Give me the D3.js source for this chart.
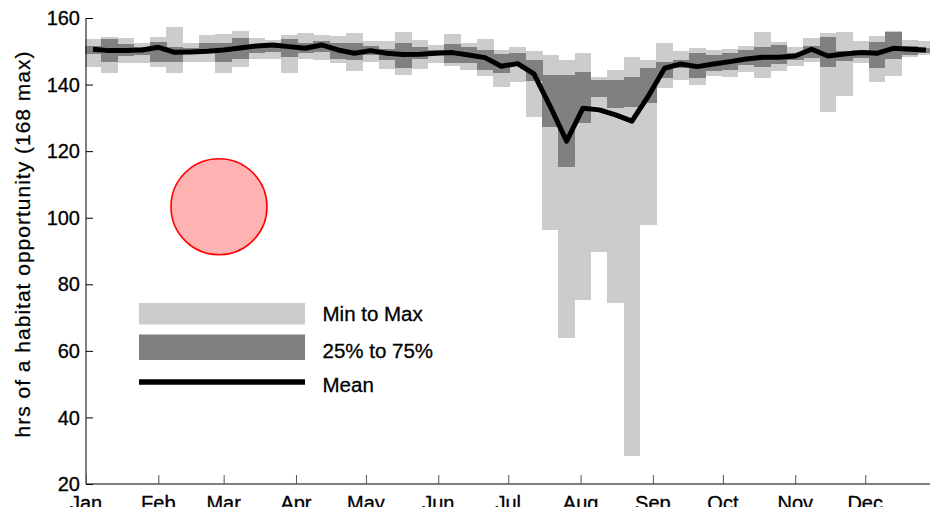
<!DOCTYPE html>
<html>
<head>
<meta charset="utf-8">
<script src="https://cdn.jsdelivr.net/npm/d3@7"></script>
<style>
	body { margin: 0; background: #fff; }
	svg { display: block; font-family: "Liberation Sans", Arial, Helvetica, sans-serif; }
	.tick-text { font-size: 20px; fill: #000; stroke: #000; stroke-width: 0.3px; }
	.legend-text { font-size: 20.5px; fill: #000; stroke: #000; stroke-width: 0.3px; }
	.y-title { font-size: 21px; letter-spacing: 1px; fill: #000; stroke: #000; stroke-width: 0.25px; }
</style>
</head>
<body>
<svg id="chart" width="930" height="513"></svg>
<script>
// weekly summary values, one entry per week of the year
const weekMax = [
	153.6, 154.4, 153.9, 152.4, 154.4, 157.2, 152.4, 154.9, 155.2, 156.1, 153.9, 153.4, 154.9,
	155.6, 155.0, 154.6, 155.4, 153.0, 153.2, 155.9, 153.4, 151.9, 155.3, 152.5, 153.6, 150.4,
	151.4, 150.2, 148.9, 147.4, 149.4, 142.3, 144.4, 148.4, 147.4, 152.6, 150.0, 151.0, 150.4,
	150.6, 151.6, 155.9, 152.9, 151.4, 154.0, 155.4, 155.9, 153.0, 154.6, 156.2, 153.5, 153.2
];
const weekQ75 = [
	151.6, 153.7, 152.2, 151.4, 152.9, 151.4, 150.9, 152.4, 152.6, 153.9, 152.0, 152.4, 153.6,
	152.6, 153.0, 152.5, 152.5, 151.5, 150.8, 152.6, 151.4, 150.4, 152.3, 151.2, 150.4, 149.2,
	149.4, 147.4, 142.9, 142.9, 143.9, 141.4, 141.4, 142.4, 144.9, 146.9, 147.5, 149.4, 148.9,
	149.4, 150.4, 151.2, 151.8, 149.5, 151.5, 154.2, 150.0, 150.5, 152.9, 155.9, 151.5, 151.0
];
const weekQ25 = [
	149.2, 146.9, 148.6, 148.9, 146.9, 146.9, 149.4, 149.4, 146.9, 147.6, 149.5, 149.9, 148.4,
	149.4, 149.7, 147.8, 147.4, 149.0, 147.5, 144.9, 147.6, 148.9, 146.4, 146.6, 144.4, 143.5,
	145.5, 141.0, 127.3, 115.3, 128.4, 136.2, 132.9, 133.4, 134.4, 141.9, 145.0, 141.9, 144.2,
	144.4, 145.9, 145.4, 146.2, 147.5, 147.9, 145.4, 147.0, 148.0, 144.9, 147.6, 149.0, 149.5
];
const weekMin = [
	145.4, 143.6, 146.4, 146.4, 145.4, 143.6, 146.9, 146.9, 143.4, 145.4, 147.6, 147.6, 143.6,
	147.6, 147.3, 146.4, 144.0, 146.9, 144.6, 142.9, 144.7, 146.4, 145.5, 144.4, 142.6, 139.3,
	140.9, 130.4, 96.3, 64.0, 75.3, 89.8, 74.5, 28.5, 97.8, 138.9, 141.5, 139.9, 142.6,
	142.4, 143.8, 141.9, 144.0, 145.5, 146.9, 131.9, 136.6, 146.4, 140.9, 142.6, 148.4, 148.9
];
const weekMean = [
	150.6, 150.2, 150.2, 150.4, 151.2, 149.7, 149.8, 150.0, 150.4, 151.0, 151.6, 151.9, 151.4,
	150.9, 151.9, 150.4, 149.4, 150.2, 149.4, 149.0, 149.1, 149.4, 149.6, 148.9, 148.1, 145.5,
	146.3, 143.2, 133.4, 123.0, 132.9, 132.4, 130.9, 129.0, 136.5, 144.9, 146.2, 145.4, 146.2,
	146.9, 147.7, 148.2, 148.2, 148.6, 150.6, 148.6, 149.2, 149.6, 149.4, 150.9, 150.6, 150.4
];
const monthLabels = ["Jan", "Feb", "Mar", "Apr", "May", "Jun", "Jul", "Aug", "Sep", "Oct", "Nov", "Dec"];
const yTicks = [20, 40, 60, 80, 100, 120, 140, 160];
const legendLabels = ["Min to Max", "25% to 75%", "Mean"];
// the red marker sits at roughly Feb 27, 103 hrs
const markerDay = 57;
const markerValue = 103.3;

const width = 930;
const height = 513;
const plot = { left: 86, top: 18, bottom: 484, dayWidth: 2.333 };
const lightGray = "#cccccc";
const darkGray = "#808080";

const yearStart = new Date(Date.UTC(2013, 0, 1));
const yearEnd = new Date(Date.UTC(2014, 0, 1));
const weeks = d3.range(weekMean.length).map((i) => d3.utcDay.offset(yearStart, 7 * i));

const svg = d3.select("#chart");

const x = d3.scaleUtc()
	.domain([yearStart, yearEnd])
	.range([plot.left, plot.left + 365 * plot.dayWidth]);

const y = d3.scaleLinear()
	.domain([20, 160])
	.range([plot.bottom, plot.top]);

const halfDay = 12;
function barLeft(d) {
	return x(d3.utcHour.offset(d, -halfDay));
}
function barRight(d) {
	return x(d3.utcHour.offset(d, 6 * 24 + halfDay));
}
function weekCenter(d) {
	return x(d3.utcDay.offset(d, 3));
}

function drawBands(lo, hi, color, cls) {
	svg.append("g")
		.attr("class", cls)
		.selectAll("rect")
		.data(weeks)
		.join("rect")
		.attr("x", (d) => barLeft(d))
		.attr("width", (d) => barRight(d) - barLeft(d) + 0.4)
		.attr("y", (d, i) => y(hi[i]))
		.attr("height", (d, i) => y(lo[i]) - y(hi[i]))
		.attr("fill", color)
		.attr("shape-rendering", "crispEdges");
}

drawBands(weekMin, weekMax, lightGray, "range-bars");
drawBands(weekQ25, weekQ75, darkGray, "iqr-bars");

// mean line
const meanLine = d3.line()
	.x((d) => weekCenter(d))
	.y((d, i) => y(weekMean[i]));

svg.append("path")
	.datum(weeks)
	.attr("d", meanLine)
	.attr("fill", "none")
	.attr("stroke", "#000")
	.attr("stroke-width", 5)
	.attr("stroke-linejoin", "round");

// marker circle
svg.append("circle")
	.attr("cx", x(d3.utcDay.offset(yearStart, markerDay)))
	.attr("cy", y(markerValue))
	.attr("r", 48)
	.attr("fill", "rgba(255, 0, 0, 0.3)")
	.attr("stroke", "#ff0000")
	.attr("stroke-width", 1.6);

// legend
const legend = svg.append("g").attr("transform", "translate(139, 303)");
legend.append("rect")
	.attr("x", 0).attr("y", 0).attr("width", 166).attr("height", 21.5)
	.attr("fill", lightGray);
legend.append("rect")
	.attr("x", 0).attr("y", 31.5).attr("width", 166).attr("height", 25.5)
	.attr("fill", darkGray);
legend.append("line")
	.attr("x1", 0).attr("x2", 166).attr("y1", 79).attr("y2", 79)
	.attr("stroke", "#000").attr("stroke-width", 5.5);
legend.selectAll("text")
	.data(legendLabels)
	.join("text")
	.attr("class", "legend-text")
	.attr("x", 183.5)
	.attr("y", (d, i) => [18, 54.5, 89][i])
	.text((d) => d);

// axes
const yAxis = svg.append("g")
	.attr("transform", `translate(${plot.left},0)`)
	.call(d3.axisRight(y).tickValues(yTicks).tickSize(7).tickFormat(""));
yAxis.select(".domain").attr("d", `M0,${plot.top}V${plot.bottom}`);
yAxis.selectAll("line").attr("stroke", "#000");

svg.append("g")
	.selectAll("text")
	.data(yTicks)
	.join("text")
	.attr("class", "tick-text")
	.attr("x", plot.left - 6)
	.attr("y", (d) => y(d))
	.attr("dy", "0.36em")
	.attr("text-anchor", "end")
	.text((d) => d);

const monthStarts = d3.utcMonth.range(yearStart, yearEnd);
const xAxis = svg.append("g")
	.attr("transform", `translate(0,${plot.bottom})`)
	.call(d3.axisTop(x).tickValues(monthStarts).tickSize(9).tickFormat(""));
xAxis.select(".domain").attr("d", `M${plot.left},0H${width}`);
xAxis.selectAll("line").attr("stroke", "#555");

svg.append("g")
	.selectAll("text")
	.data(monthStarts)
	.join("text")
	.attr("class", "tick-text")
	.attr("x", (d) => x(d))
	.attr("y", 509.5)
	.attr("text-anchor", "middle")
	.text((d, i) => monthLabels[i]);

// the original picture is cut just under the month labels
svg.append("rect")
	.attr("x", 0).attr("y", 507).attr("width", width).attr("height", height - 507)
	.attr("fill", "#fff");

svg.append("text")
	.attr("class", "y-title")
	.attr("transform", "translate(30,244) rotate(-90)")
	.attr("text-anchor", "middle")
	.text("hrs of a habitat opportunity (168 max)");
</script>
</body>
</html>
